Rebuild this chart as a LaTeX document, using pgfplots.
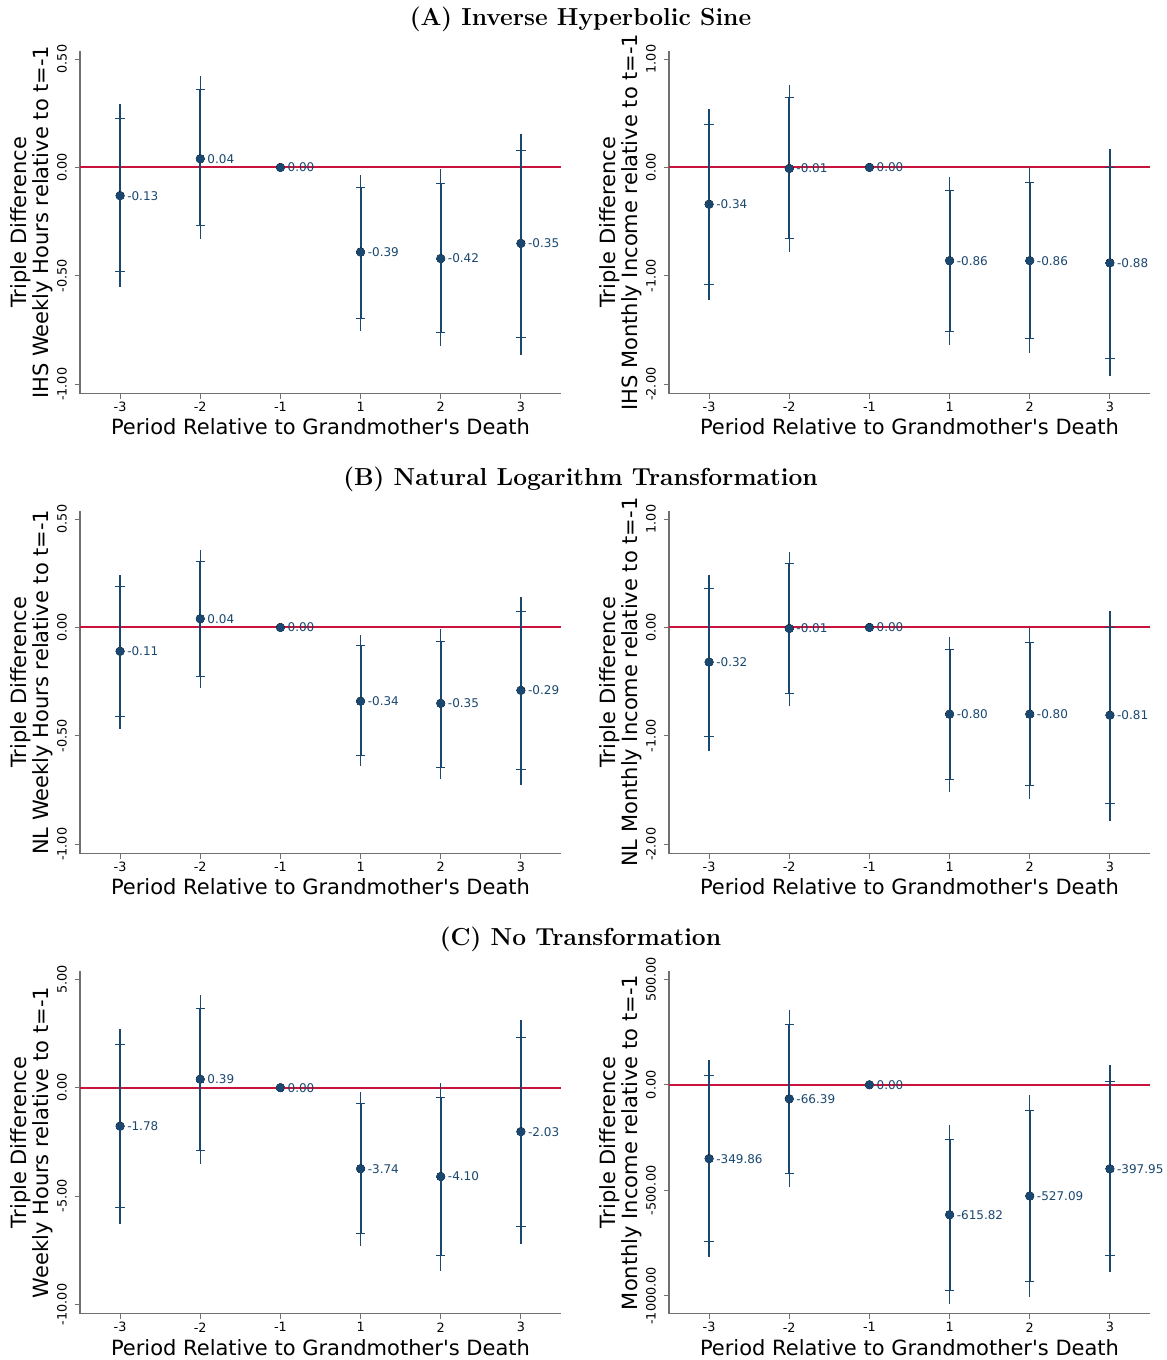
\documentclass[border=0pt]{standalone}
\usepackage{fontspec}
\usepackage{pgfplots}
\usepackage{pgfplotstable}
\pgfplotsset{compat=1.18}
\newfontfamily\dejavu{DejaVu Sans}
\definecolor{navy}{HTML}{1A476F}
\definecolor{zline}{HTML}{C8143C}
\definecolor{axgray}{HTML}{707070}

% x: category index (0..5 = -3,-2,-1,1,2,3)
\pgfplotstableread{
x y lo95 hi95 lo90 hi90 lab
0 -0.13 -0.549 0.291 -0.480 0.225 -0.13
1 0.04 -0.330 0.420 -0.269 0.359 0.04
2 0 0 0 0 0 0.00
3 -0.39 -0.753 -0.035 -0.695 -0.091 -0.39
4 -0.42 -0.822 -0.009 -0.759 -0.074 -0.42
5 -0.35 -0.863 0.156 -0.782 0.080 -0.35
}\ihshours
\pgfplotstableread{
x y lo95 hi95 lo90 hi90 lab
0 -0.34 -1.222 0.537 -1.084 0.396 -0.34
1 -0.01 -0.780 0.758 -0.660 0.642 -0.01
2 0 0 0 0 0 0.00
3 -0.86 -1.636 -0.086 -1.517 -0.212 -0.86
4 -0.86 -1.713 0.000 -1.581 -0.141 -0.86
5 -0.88 -1.928 0.169 -1.759 0.000 -0.88
}\ihsinc
\pgfplotstableread{
x y lo95 hi95 lo90 hi90 lab
0 -0.11 -0.468 0.243 -0.411 0.187 -0.11
1 0.04 -0.278 0.356 -0.227 0.305 0.04
2 0 0 0 0 0 0.00
3 -0.34 -0.640 -0.034 -0.592 -0.081 -0.34
4 -0.35 -0.700 -0.009 -0.645 -0.064 -0.35
5 -0.29 -0.724 0.140 -0.655 0.072 -0.29
}\nlhours
\pgfplotstableread{
x y lo95 hi95 lo90 hi90 lab
0 -0.32 -1.137 0.485 -1.008 0.356 -0.32
1 -0.01 -0.722 0.697 -0.608 0.587 -0.01
2 0 0 0 0 0 0.00
3 -0.80 -1.521 -0.089 -1.407 -0.206 -0.80
4 -0.80 -1.585 -0.006 -1.462 -0.141 -0.80
5 -0.81 -1.782 0.150 -1.625 0.000 -0.81
}\nlinc
\pgfplotstableread{
x y lo95 hi95 lo90 hi90 lab
0 -1.78 -6.27 2.70 -5.55 1.98 -1.78
1 0.39 -3.51 4.28 -2.90 3.65 0.39
2 0 0 0 0 0 0.00
3 -3.74 -7.32 -0.18 -6.75 -0.74 -3.74
4 -4.10 -8.44 0.23 -7.73 -0.46 -4.10
5 -2.03 -7.21 3.14 -6.40 2.33 -2.03
}\rawhours
\pgfplotstableread{
x y lo95 hi95 lo90 hi90 lab
0 -349.86 -816 118 -742 44 -349.86
1 -66.39 -486 354 -418 287 -66.39
2 0 0 0 0 0 0.00
3 -615.82 -1040 -189 -973 -257 -615.82
4 -527.09 -1007 -46 -932 -122 -527.09
5 -397.95 -889 93 -808 14 -397.95
}\rawinc

\pgfplotsset{
 panel/.style={
  scale only axis, width=240.5pt, height=171.25pt,
  axis line style={draw=none},
  tick pos=left,
  tick align=outside, major tick length=2.75pt,
  tick style={draw=axgray, line width=0.5pt},
  xmin=-0.5, xmax=5.5, xtick={0,1,2,3,4,5}, xticklabels={-3,-2,-1,1,2,3},
  tick label style={font=\dejavu\fontsize{6.4}{7}\selectfont, text=black},
  xticklabel style={anchor=center},
  yticklabel style={anchor=center, rotate=90},
  xticklabel shift=4pt,
  yticklabel shift=6.25pt,
  every axis x label/.style={at={(axis description cs:0.5,-0.0978)}, anchor=center, font=\dejavu\fontsize{10.5}{11}\selectfont},
  every axis y label/.style={at={(axis description cs:-0.1000,0.5)}, anchor=center, rotate=90, align=center, font=\dejavu\fontsize{10.5}{10.8}\selectfont},
  xlabel={Period Relative to Grandmother's Death},
  clip=false,
 },
}

% #1 table, #2 width of the zero line
\newcommand\ciplots[2]{%
 \draw[draw=axgray, line width=0.6pt] (rel axis cs:0,1) -- (rel axis cs:0,0) -- (rel axis cs:1,0);
 \addplot[draw=zline, line width=#2, mark=none] coordinates {(-0.5,0) (5.5,0)};
 \addplot[only marks, mark=none,
   error bars/.cd, y dir=both, y explicit, error mark=none,
   error bar style={draw=navy, line width=0.6pt}]
   table[x=x, y=y, y error plus expr=\thisrow{hi95}-\thisrow{y}, y error minus expr=\thisrow{y}-\thisrow{lo95}] {#1};
 \addplot[only marks, mark=none,
   error bars/.cd, y dir=both, y explicit, error mark=-,
   error mark options={rotate=90, mark size=2.3pt, line width=0.5pt, draw=navy},
   error bar style={draw=navy, line width=1.0pt}]
   table[x=x, y=y, y error plus expr=\thisrow{hi90}-\thisrow{y}, y error minus expr=\thisrow{y}-\thisrow{lo90}] {#1};
 \addplot[only marks, mark=*, mark size=2pt, mark options={fill=navy, draw=navy, line width=0pt},
   nodes near coords, point meta=explicit symbolic,
   every node near coord/.style={anchor=west, xshift=3.6pt, inner sep=0pt, text=navy, font=\dejavu\fontsize{6.0}{6.5}\selectfont}]
   table[x=x, y=y, meta=lab] {#1};
}

\begin{document}
\begin{tikzpicture}
\useasboundingbox (0,0) rectangle (583.5pt,680pt);

\node[font=\fontsize{12.3}{14}\selectfont\bfseries] at (290.25pt,670.5pt) {(A) Inverse Hyperbolic Sine};
\node[font=\fontsize{12.3}{14}\selectfont\bfseries] at (290.25pt,440.5pt) {(B) Natural Logarithm Transformation};
\node[font=\fontsize{12.3}{14}\selectfont\bfseries] at (290.25pt,210.5pt) {(C) No Transformation};

% Row A
\begin{axis}[panel, at={(40pt,483.25pt)}, anchor=south west,
  ymin=-1.042, ymax=0.537, ytick={-1,-0.5,0,0.5}, yticklabels={-1.00,-0.50,0.00,0.50},
  ylabel={Triple Difference\\IHS Weekly Hours relative to t=-1}]
\ciplots{\ihshours}{1.0pt}
\end{axis}
\begin{axis}[panel, at={(334.5pt,483.25pt)}, anchor=south west,
  ymin=-2.085, ymax=1.074, ytick={-2,-1,0,1}, yticklabels={-2.00,-1.00,0.00,1.00},
  ylabel={Triple Difference\\IHS Monthly Income relative to t=-1}]
\ciplots{\ihsinc}{1.0pt}
\end{axis}

% Row B
\begin{axis}[panel, at={(40pt,253.25pt)}, anchor=south west,
  ymin=-1.042, ymax=0.537, ytick={-1,-0.5,0,0.5}, yticklabels={-1.00,-0.50,0.00,0.50},
  ylabel={Triple Difference\\NL Weekly Hours relative to t=-1}]
\ciplots{\nlhours}{1.0pt}
\end{axis}
\begin{axis}[panel, at={(334.5pt,253.25pt)}, anchor=south west,
  ymin=-2.085, ymax=1.074, ytick={-2,-1,0,1}, yticklabels={-2.00,-1.00,0.00,1.00},
  ylabel={Triple Difference\\NL Monthly Income relative to t=-1}]
\ciplots{\nlinc}{1.0pt}
\end{axis}

% Row C
\begin{axis}[panel, at={(40pt,23.1pt)}, anchor=south west,
  ymin=-10.435, ymax=5.37, ytick={-10,-5,0,5}, yticklabels={-10.00,-5.00,0.00,5.00},
  ylabel={Triple Difference\\Weekly Hours relative to t=-1}]
\ciplots{\rawhours}{1.1pt}
\end{axis}
\begin{axis}[panel, at={(334.5pt,23.1pt)}, anchor=south west,
  ymin=-1085, ymax=538, ytick={-1000,-500,0,500}, yticklabels={-1000.00,-500.00,0.00,500.00},
  ylabel={Triple Difference\\Monthly Income relative to t=-1}]
\ciplots{\rawinc}{1.1pt}
\end{axis}
\end{tikzpicture}
\end{document}
